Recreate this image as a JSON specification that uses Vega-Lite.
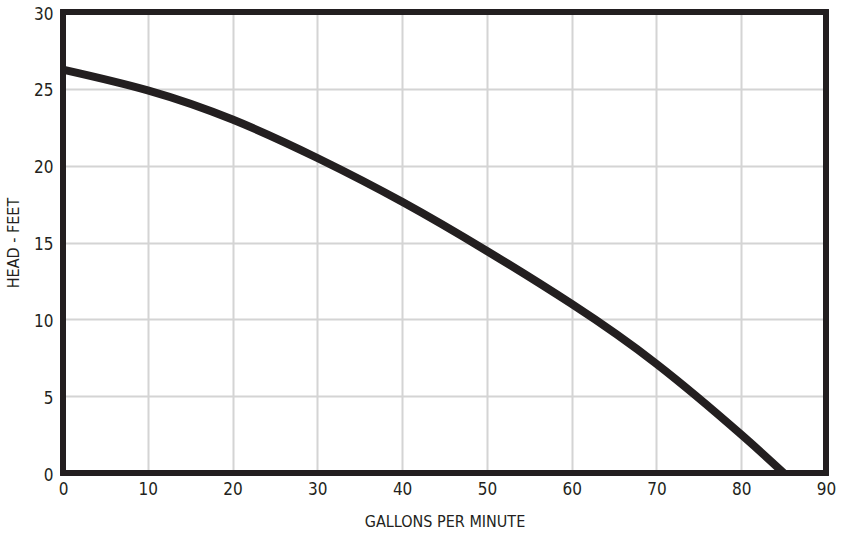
{
  "$schema": "https://vega.github.io/schema/vega-lite/v6.json",
  "autosize": "none",
  "width": 763,
  "height": 461,
  "padding": {"left": 63, "top": 12, "right": 17, "bottom": 60},
  "background": "white",
  "config": {
    "view": {"stroke": null},
    "font": "DejaVu Sans Condensed",
    "axis": {
      "gridColor": "#d4d4d4",
      "gridWidth": 2,
      "gridOpacity": 1,
      "domain": false,
      "ticks": false,
      "labelFlush": false,
      "labelFont": "DejaVu Sans Condensed",
      "labelFontSize": 17,
      "labelColor": "#231f20",
      "titleFont": "DejaVu Sans Condensed",
      "titleFontSize": 16,
      "titleFontWeight": "normal",
      "titleColor": "#231f20"
    }
  },
  "data": {
    "values": [
      {"gpm": 0, "head": 26.25},
      {"gpm": 10, "head": 24.9},
      {"gpm": 20, "head": 23.0},
      {"gpm": 30, "head": 20.5},
      {"gpm": 40, "head": 17.65},
      {"gpm": 50, "head": 14.45},
      {"gpm": 60, "head": 11.0},
      {"gpm": 70, "head": 7.1},
      {"gpm": 80, "head": 2.5},
      {"gpm": 85, "head": 0}
    ]
  },
  "layer": [
    {
      "mark": {"type": "line", "color": "#231f20", "strokeWidth": 8, "interpolate": "natural", "strokeCap": "butt", "clip": true},
      "encoding": {
        "x": {
          "field": "gpm",
          "type": "quantitative",
          "scale": {"domain": [0, 90], "nice": false},
          "axis": {"values": [0,10,20,30,40,50,60,70,80,90], "title": "GALLONS PER MINUTE", "labelPadding": 8, "titlePadding": 16}
        },
        "y": {
          "field": "head",
          "type": "quantitative",
          "scale": {"domain": [0, 30], "nice": false},
          "axis": {"values": [0,5,10,15,20,25,30], "title": "HEAD - FEET", "labelPadding": 10, "labelOffset": 2, "titlePadding": 12}
        }
      }
    },
    {
      "mark": {"type": "rect", "fill": null, "filled": false, "stroke": "#231f20", "strokeWidth": 5},
      "encoding": {
        "x": {"datum": 0, "type": "quantitative"},
        "x2": {"datum": 90},
        "y": {"datum": 0, "type": "quantitative"},
        "y2": {"datum": 30}
      }
    }
  ]
}
